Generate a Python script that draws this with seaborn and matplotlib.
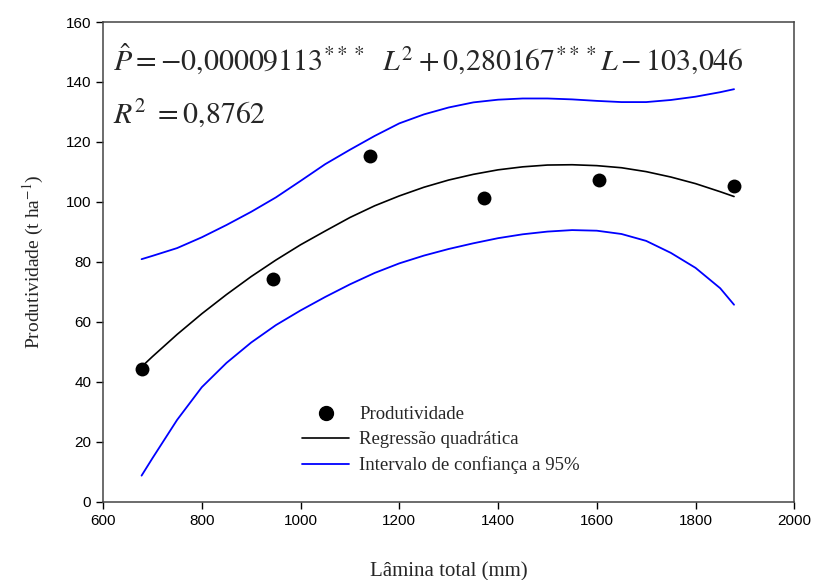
import matplotlib.pyplot as plt
import seaborn as sns
from matplotlib.lines import Line2D


# dados
lamina = [678, 945, 1140, 1372, 1605, 1878]
produtividade = [44.2, 74.3, 115.3, 101.2, 107.2, 105.4]

# curvas (valores lidos ao longo das linhas)
curva_x = [678, 700, 750, 800, 850, 900, 950, 1000, 1050, 1100, 1150, 1200, 1250,
           1300, 1350, 1400, 1450, 1500, 1550, 1600, 1650, 1700, 1750, 1800, 1850, 1878]
regressao = [45.0, 48.4, 55.8, 62.7, 69.1, 75.1, 80.6, 85.7, 90.3, 94.8, 98.7, 102.0, 104.9,
             107.3, 109.2, 110.7, 111.7, 112.3, 112.4, 112.1, 111.4, 110.1, 108.3, 106.1, 103.4, 101.8]
ic_sup = [80.9, 82.0, 84.6, 88.2, 92.3, 96.7, 101.5, 107.0, 112.6, 117.4, 122.0, 126.2, 129.2,
          131.5, 133.2, 134.1, 134.5, 134.5, 134.2, 133.7, 133.3, 133.3, 134.0, 135.1, 136.6, 137.6]
ic_inf = [8.7, 14.5, 27.3, 38.2, 46.3, 53.1, 58.9, 63.8, 68.3, 72.5, 76.3, 79.5, 82.1,
          84.3, 86.2, 87.9, 89.2, 90.1, 90.6, 90.4, 89.3, 87.0, 83.0, 78.0, 71.2, 65.7]

x_ticks = [600, 800, 1000, 1200, 1400, 1600, 1800, 2000]
y_ticks = [0, 20, 40, 60, 80, 100, 120, 140, 160]

equacao = r'$\hat{P} = -0{,}00009113^{***}\ \ L^{2} + 0{,}280167^{***}L - 103{,}046$'
r2 = r'$R^{2}\ = 0{,}8762$'


sns.set_style("ticks")
plt.rcParams['font.family'] = ['Liberation Sans', 'DejaVu Sans']
plt.rcParams['mathtext.fontset'] = 'stix'

fig, ax = plt.subplots(figsize=(8.18, 5.8), dpi=100)
fig.subplots_adjust(left=0.126, right=0.971, bottom=0.135, top=0.962)

azul = '#0000ff'
sns.lineplot(x=curva_x, y=ic_sup, color=azul, lw=1.3, ax=ax)
sns.lineplot(x=curva_x, y=ic_inf, color=azul, lw=1.3, ax=ax)
sns.lineplot(x=curva_x, y=regressao, color='black', lw=1.2, ax=ax)
sns.scatterplot(x=lamina, y=produtividade, s=100, color='black', edgecolor='black',
                linewidth=0, zorder=3, ax=ax)

ax.set_xlim(600, 2000)
ax.set_ylim(0, 160)
ax.set_xticks(x_ticks)
ax.set_yticks(y_ticks)
ax.tick_params(direction='out', length=5, width=1, top=False, right=False,
               labelsize=11, colors='black')
for s in ax.spines.values():
    s.set_visible(True)
    s.set_color('#444444')
    s.set_linewidth(1.1)

ax.set_xlabel('Lâmina total (mm)', fontfamily='Liberation Serif', fontsize=15, labelpad=25)
ax.set_ylabel('Produtividade (t ha$^{-1}$)', fontfamily='Liberation Serif', fontsize=14,
              labelpad=14)

# equação
ax.text(0.0145, 0.899, equacao, transform=ax.transAxes, fontsize=21.5, va='baseline')
ax.text(0.0145, 0.791, r2, transform=ax.transAxes, fontsize=21.5, va='baseline')

# legenda
handles = [
    Line2D([], [], marker='o', color='black', linestyle='none', markersize=10),
    Line2D([], [], color='black', lw=1.2),
    Line2D([], [], color=azul, lw=1.3),
]
labels = ['Produtividade', 'Regressão quadrática', 'Intervalo de confiança a 95%']
ax.legend(handles, labels, loc='upper left', bbox_to_anchor=(0.288, 0.199), frameon=False,
          borderpad=0, borderaxespad=0, handlelength=2.5, handletextpad=0.55,
          labelspacing=0.42, prop={'family': 'Liberation Serif', 'size': 13.5})

plt.savefig('out.png', dpi=100)
